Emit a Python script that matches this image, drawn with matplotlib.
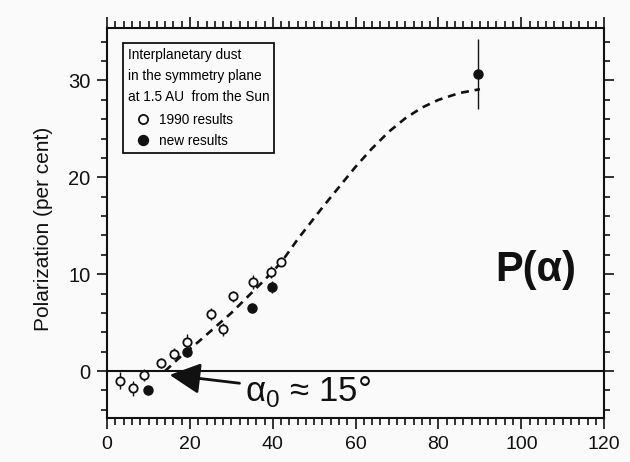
import matplotlib
matplotlib.use("Agg")
import matplotlib.pyplot as plt
from matplotlib.ticker import MultipleLocator

# ---- data ----
open_x = [3.0, 6.3, 8.8, 13.0, 16.1, 19.3, 25.1, 28.0, 30.4, 35.3, 39.6, 42.0]
open_y = [-1.0, -1.8, -0.4, 0.8, 1.8, 3.0, 5.9, 4.3, 7.7, 9.2, 10.2, 11.3]
open_err = [0.9, 0.8, 0.6, 0.5, 0.6, 0.8, 0.6, 0.7, 0.6, 0.7, 0.6, 0.5]

new_x = [9.9, 19.3, 35.0, 39.8, 89.5]
new_y = [-2.0, 2.0, 6.5, 8.7, 30.7]
new_err = [0.5, 0.6, 0.5, 0.6, 3.6]

curve_x = [14, 18, 22, 26, 30, 34, 38, 42, 46, 52, 60, 64, 68, 72, 76, 80, 85, 90]
curve_y = [0.0, 1.6, 3.0, 4.5, 6.0, 7.7, 9.4, 11.2, 13.6, 16.9, 21.1, 23.0, 24.7, 26.1, 27.2, 28.0, 28.7, 29.1]

x_ticks = [0, 20, 40, 60, 80, 100, 120]
y_ticks = [0, 10, 20, 30]

sans = ['Liberation Sans', 'DejaVu Sans']
plt.rcParams['font.family'] = sans
plt.rcParams['mathtext.fontset'] = 'custom'
plt.rcParams['mathtext.rm'] = 'Liberation Sans'

bg = '#fafafa'
ink = '#111111'

fig = plt.figure(figsize=(6.3, 4.62), dpi=100, facecolor=bg)
ax = fig.add_axes([0.170, 0.0952, 0.789, 0.8438], facecolor=bg)

ax.set_xlim(0, 120)
ax.set_ylim(-4.85, 35.4)

for s in ax.spines.values():
    s.set_linewidth(1.5)
    s.set_color(ink)

ax.axhline(0, color=ink, lw=1.5, zorder=2)

ax.plot(curve_x, curve_y, color=ink, lw=1.9, linestyle=(0, (3.0, 2.2)), zorder=3)

ax.errorbar(open_x, open_y, yerr=open_err, fmt='none', ecolor=ink, elinewidth=1.0, capsize=0, zorder=4)
ax.errorbar(new_x, new_y, yerr=new_err, fmt='none', ecolor=ink, elinewidth=1.0, capsize=0, zorder=4)
h_open, = ax.plot(open_x, open_y, 'o', ms=6, mfc=bg, mec=ink, mew=1.3, ls='none', zorder=5)
h_new, = ax.plot(new_x, new_y, 'o', ms=6.5, mfc=ink, mec=ink, ls='none', zorder=5)

# ticks on all four sides, pointing outward
ax.set_xticks(x_ticks)
ax.set_yticks(y_ticks)
ax.xaxis.set_minor_locator(MultipleLocator(2))
ax.yaxis.set_minor_locator(MultipleLocator(2))
ax.tick_params(axis='x', which='both', direction='out', top=True, bottom=True, width=1.2, colors=ink)
ax.tick_params(axis='x', which='major', length=8, pad=5, labelsize=14)
ax.tick_params(axis='x', which='minor', length=5)
ax.tick_params(axis='y', which='both', direction='out', left=True, right=True, width=1.2, colors=ink)
ax.tick_params(axis='y', which='major', length=7, pad=5, labelsize=14.5)
ax.tick_params(axis='y', which='minor', length=4.5)

ax.set_ylabel('Polarization (per cent)', fontsize=15, color=ink)
ax.yaxis.set_label_coords(-0.108, 0.485)

leg = ax.legend(handles=[h_open, h_new], labels=['1990 results', 'new results'],
                title='Interplanetary dust\nin the symmetry plane\nat 1.5 AU  from the Sun',
                alignment='left', loc='upper left', bbox_to_anchor=(0.032, 0.9615),
                borderaxespad=0, fancybox=False, frameon=True, edgecolor=ink,
                facecolor=bg, framealpha=1, handlelength=2.2, handletextpad=0.1,
                borderpad=0.35, labelspacing=0.55, markerscale=1.1,
                prop={'family': sans, 'size': 9.8},
                title_fontproperties={'family': sans, 'size': 9.8})
leg.get_frame().set_linewidth(1.3)
leg.get_title().set_linespacing(1.65)
leg._legend_box.sep = 6

ax.text(103.6, 10.4, 'P(α)', fontsize=30, fontweight='bold', ha='center', va='center', color=ink)

ax.annotate('α${}_\\mathregular{0}$ ≈ 15°', xy=(15.1, -0.4), xytext=(33.3, -2.1),
            fontsize=25, ha='left', va='center', color=ink,
            arrowprops=dict(arrowstyle='-|>,head_length=0.75,head_width=0.38',
                            color=ink, lw=2.0, shrinkA=2, shrinkB=0))

fig.savefig('out.png', dpi=100, facecolor=bg)
